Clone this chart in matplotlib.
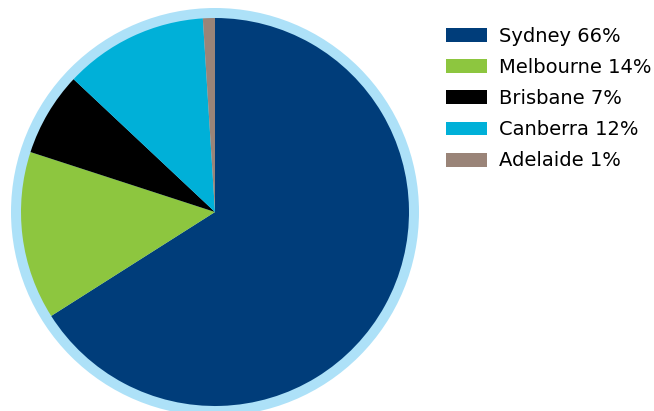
import matplotlib
matplotlib.use('Agg')
import matplotlib.pyplot as plt
from matplotlib.patches import Circle

cities = ['Sydney', 'Melbourne', 'Brisbane', 'Canberra', 'Adelaide']
shares = [66, 14, 7, 12, 1]
colors = ['#003d7a', '#8dc63f', '#000000', '#00b0d8', '#9a8478']
ring_color = '#ade1f8'

labels = ['%s %d%%' % (c, s) for c, s in zip(cities, shares)]

W, H = 654, 411
fig = plt.figure(figsize=(W / 100.0, H / 100.0), dpi=100)
ax = fig.add_axes([0, 0, 1, 1])

# work in pixel units, y going up
cx, cy = 215, H - 212
ax.add_patch(Circle((cx, cy), 204, facecolor=ring_color, edgecolor='none', zorder=0))
wedges, _ = ax.pie(shares, colors=colors, startangle=90, counterclock=False,
                   radius=194, center=(cx, cy), frame=True,
                   wedgeprops={'linewidth': 0, 'zorder': 1})

ax.set_xlim(0, W)
ax.set_ylim(0, H)
ax.set_aspect('equal')
ax.axis('off')

fs = 14
em = fs * 100 / 72.0
ax.legend(wedges, labels, loc='upper left', bbox_to_anchor=(446.0 / W, 1 - 26.5 / H),
          bbox_transform=fig.transFigure, frameon=False,
          handlelength=41 / em, handleheight=14 / em, handletextpad=0.6,
          labelspacing=0.63, borderpad=0, borderaxespad=0,
          prop={'family': 'DejaVu Sans', 'size': fs})

fig.savefig('out.png', dpi=100)
